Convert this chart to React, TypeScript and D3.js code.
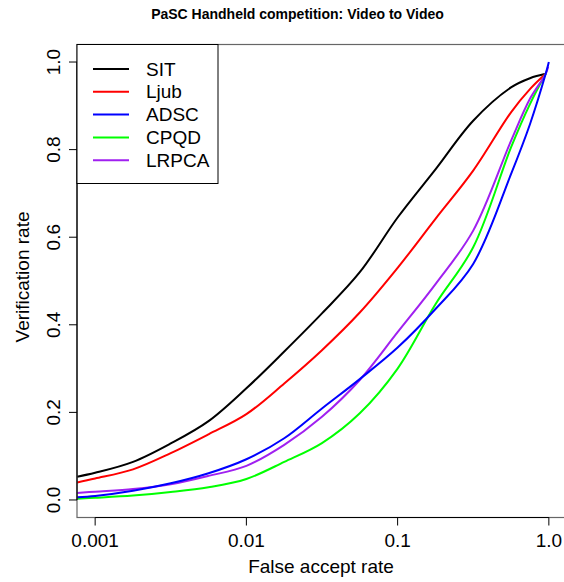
import React from "react";
import * as d3 from "d3";

const far = [0.00076, 0.001, 0.00178, 0.00316, 0.00562, 0.01, 0.0178, 0.0316, 0.0562, 0.1, 0.178, 0.316, 0.562, 0.75, 0.953];
const sit = [0.053, 0.062, 0.087, 0.129, 0.180, 0.255, 0.339, 0.426, 0.520, 0.645, 0.755, 0.866, 0.942, 0.963, 0.973];
const ljub = [0.040, 0.049, 0.070, 0.107, 0.150, 0.196, 0.266, 0.342, 0.428, 0.530, 0.642, 0.752, 0.885, 0.938, 0.973];
const adsc = [0.006, 0.009, 0.021, 0.038, 0.061, 0.093, 0.141, 0.209, 0.276, 0.348, 0.436, 0.539, 0.744, 0.858, 0.973];
const cpqd = [0.003, 0.005, 0.010, 0.018, 0.029, 0.048, 0.087, 0.130, 0.198, 0.300, 0.447, 0.577, 0.805, 0.904, 0.973];
const lrpca = [0.016, 0.019, 0.025, 0.036, 0.055, 0.078, 0.126, 0.190, 0.274, 0.383, 0.493, 0.615, 0.820, 0.916, 0.973];
const adscTail = { far: 1.0, vr: 1.0 };
const lrpcaTail = { far: 0.99, vr: 0.99 };

const seriesNames = ["SIT", "Ljub", "ADSC", "CPQD", "LRPCA"];
const seriesColors = ["#000000", "#FF0000", "#0000FF", "#00FF00", "#A020F0"];
const xTicks = [0.001, 0.01, 0.1, 1.0];
const xTickLabels = ["0.001", "0.01", "0.1", "1.0"];
const yTicks = [0, 0.2, 0.4, 0.6, 0.8, 1.0];
const yTickLabels = ["0.0", "0.2", "0.4", "0.6", "0.8", "1.0"];

export default function App() {
  const W = 564, H = 582;
  const left = 77, right = 567, top = 44.5, bottom = 517.5;
  const x = d3.scaleLog().domain([Math.pow(10, -3.12), Math.pow(10, 0.12)]).range([left, right]);
  const y = d3.scaleLinear().domain([-0.04, 1.04]).range([bottom, top]);
  const line = d3.line<[number, number]>().x(d => x(d[0])).y(d => y(d[1])).curve(d3.curveCatmullRom.alpha(0.5));

  const build = (vals: number[], tail?: { far: number; vr: number }) => {
    const pts: [number, number][] = far.map((f, i) => [f, vals[i]]);
    if (tail) pts.push([tail.far, tail.vr]);
    return pts;
  };
  const data = [build(sit), build(ljub), build(adsc, adscTail), build(cpqd), build(lrpca, lrpcaTail)];
  const order = [0, 1, 3, 4, 2];

  const font = "Liberation Sans, Arial, Helvetica, sans-serif";
  const legendY0 = 69, legendDy = 22.8;

  return (
    <svg width={W} height={H} style={{ position: "absolute", left: 0, top: 0, background: "#fff" }} fontFamily={font}>
      <defs>
        <clipPath id="plotClip">
          <rect x={left} y={top} width={right - left} height={bottom - top} />
        </clipPath>
      </defs>
      <rect x={0} y={0} width={W} height={H} fill="#fff" />
      <text x={297.5} y={19} textAnchor="middle" fontWeight="bold" fontSize={14}>
        PaSC Handheld competition: Video to Video
      </text>
      <g clipPath="url(#plotClip)">
        {order.map(i => (
          <path key={i} d={line(data[i]) || ""} fill="none" stroke={seriesColors[i]} strokeWidth={2} strokeLinejoin="round" />
        ))}
      </g>
      <rect x={left} y={top} width={right - left} height={bottom - top} fill="none" stroke="#666" strokeWidth={1.2} />
      <line x1={x(xTicks[0])} x2={x(xTicks[xTicks.length - 1])} y1={bottom} y2={bottom} stroke="#000" strokeWidth={1.2} />
      {xTicks.map((t, i) => (
        <g key={t}>
          <line x1={x(t)} x2={x(t)} y1={bottom} y2={bottom + 8} stroke="#000" strokeWidth={1} />
          <text x={x(t)} y={546.5} textAnchor="middle" fontSize={19}>{xTickLabels[i]}</text>
        </g>
      ))}
      <line x1={left} x2={left} y1={y(yTicks[0])} y2={y(yTicks[yTicks.length - 1])} stroke="#000" strokeWidth={1.2} />
      {yTicks.map((t, i) => (
        <g key={t}>
          <line x1={left} x2={left - 8} y1={y(t)} y2={y(t)} stroke="#000" strokeWidth={1} />
          <text transform={`translate(59.5,${y(t)}) rotate(-90)`} textAnchor="middle" fontSize={19}>{yTickLabels[i]}</text>
        </g>
      ))}
      <text x={321} y={573} textAnchor="middle" fontSize={19}>False accept rate</text>
      <text transform={`translate(29,277) rotate(-90)`} textAnchor="middle" fontSize={19}>Verification rate</text>
      <rect x={left} y={top} width={141} height={139} fill="#fff" stroke="#000" strokeWidth={1} />
      {seriesNames.map((n, i) => (
        <g key={n}>
          <line x1={93} x2={129} y1={legendY0 + i * legendDy} y2={legendY0 + i * legendDy} stroke={seriesColors[i]} strokeWidth={2} />
          <text x={146} y={legendY0 + i * legendDy} dy="0.35em" fontSize={19}>{n}</text>
        </g>
      ))}
    </svg>
  );
}
